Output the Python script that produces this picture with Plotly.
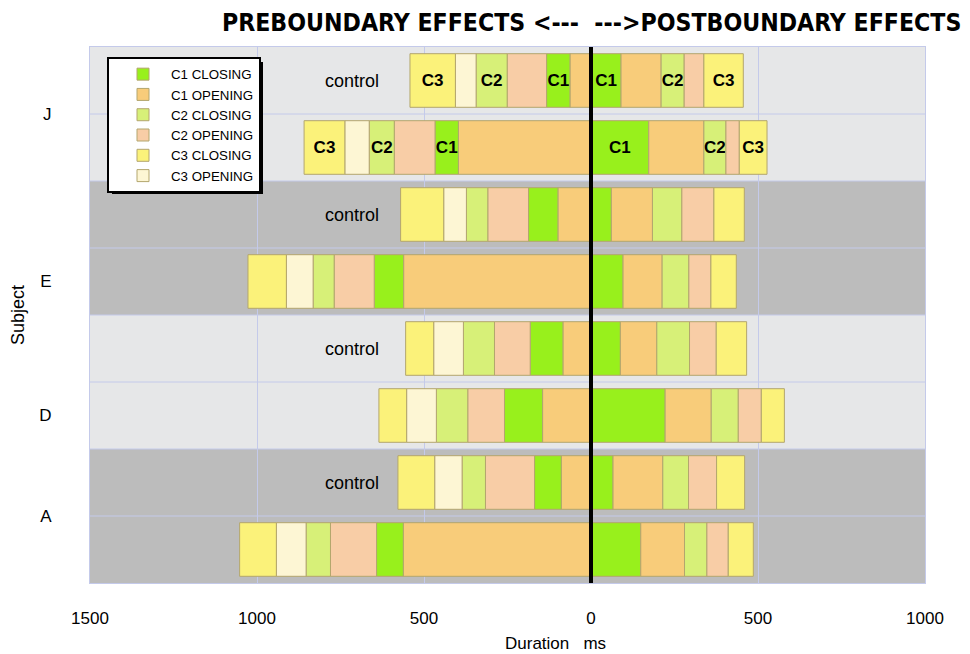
import plotly.graph_objects as go

# ---- data (rows listed bottom to top) ----
row_labels = ["A", "A control", "D", "D control", "E", "E control", "J", "J control"]
row_pos = [0, 1, 2, 3, 4, 5, 6, 7]
control_rows = ["A control", "D control", "E control", "J control"]
labeled_rows = ["J", "J control"]          # rows whose closing segments carry C-labels

# preboundary (left of boundary) durations in ms, ordered outward from the boundary
pre_c1_opening = [562, 89, 145, 84, 561, 99, 397, 63]
pre_c1_closing = [80, 80, 114, 98, 88, 88, 70, 70]
pre_c2_opening = [138, 147, 110, 107, 120, 122, 122, 118]
pre_c2_closing = [73, 70, 94, 93, 63, 64, 75, 93]
pre_c3_opening = [89, 82, 89, 89, 80, 68, 73, 62]
pre_c3_closing = [110, 110, 83, 84, 115, 129, 122, 136]

# postboundary (right of boundary) durations in ms, ordered outward
post_c1_closing = [149, 66, 222, 88, 96, 61, 173, 90]
post_c1_opening = [131, 149, 138, 109, 117, 123, 165, 120]
post_c2_closing = [67, 77, 81, 98, 80, 88, 66, 69]
post_c2_opening = [64, 84, 69, 80, 66, 96, 40, 59]
post_c3_closing = [75, 84, 69, 91, 76, 91, 83, 118]

x_tickvals = [-1500, -1000, -500, 0, 500, 1000]
x_ticktext = ["1500", "1000", "500", "0", "500", "1000"]
subject_ticks = [0.5, 2, 4, 6.5]
subject_names = ["A", "D", "E", "J"]
band_subjects = ["A", "D", "E", "J"]

phase_names = ["C1 CLOSING", "C1 OPENING", "C2 CLOSING", "C2 OPENING", "C3 CLOSING", "C3 OPENING"]
phase_colors = {
    "C1 CLOSING": "#98f01c",
    "C1 OPENING": "#f8cc7a",
    "C2 CLOSING": "#d7f078",
    "C2 OPENING": "#f8cda6",
    "C3 CLOSING": "#fbf27a",
    "C3 OPENING": "#fdf6d4",
}

FONT = "Liberation Sans, Arial, Helvetica, sans-serif"
GRID = "#c4caea"
OUTLINE = "#b3a66e"

# page offset of the figure (browser body margin) and plot-area geometry in page px
OFF = 8
PL, PT, PW, PH = 90, 47, 835, 536

def px_x(p):
    return (p - PL) / PW

def px_y(p):
    return (PT + PH - p) / PH

fig = go.Figure()

def add_seg(values, phase, side, show):
    sign = -1 if side == "pre" else 1
    closing = "CLOSING" in phase
    lbl = phase.split()[0]
    text = [lbl if (closing and r in labeled_rows) else "" for r in row_labels]
    fig.add_trace(go.Bar(
        x=[sign * v for v in values], y=row_pos, orientation="h",
        name=phase, legendgroup=phase, showlegend=show,
        legendrank=phase_names.index(phase) + 1,
        marker=dict(color=phase_colors[phase], line=dict(color=OUTLINE, width=1)),
        text=text, textposition="inside", insidetextanchor="middle",
        textangle=0, constraintext="none",
        textfont=dict(family=FONT, size=17, color="black", weight="bold"),
        hoverinfo="skip",
    ))

# left side, stacked outward from zero
add_seg(pre_c1_opening, "C1 OPENING", "pre", True)
add_seg(pre_c1_closing, "C1 CLOSING", "pre", True)
add_seg(pre_c2_opening, "C2 OPENING", "pre", True)
add_seg(pre_c2_closing, "C2 CLOSING", "pre", True)
add_seg(pre_c3_opening, "C3 OPENING", "pre", True)
add_seg(pre_c3_closing, "C3 CLOSING", "pre", True)
# right side
add_seg(post_c1_closing, "C1 CLOSING", "post", False)
add_seg(post_c1_opening, "C1 OPENING", "post", False)
add_seg(post_c2_closing, "C2 CLOSING", "post", False)
add_seg(post_c2_opening, "C2 OPENING", "post", False)
add_seg(post_c3_closing, "C3 CLOSING", "post", False)

shapes = []
band_cols = ["#bcbcbc", "#e6e7e8", "#bcbcbc", "#e6e7e8"]
for i, s in enumerate(band_subjects):
    shapes.append(dict(type="rect", xref="paper", x0=0, x1=1, yref="y",
                       y0=2 * i - 0.5, y1=2 * i + 1.5, fillcolor=band_cols[i],
                       line=dict(width=0), layer="below"))
for k in range(len(row_pos) - 1):
    shapes.append(dict(type="line", xref="paper", x0=0, x1=1, yref="y",
                       y0=k + 0.5, y1=k + 0.5, line=dict(color=GRID, width=1), layer="below"))
# boundary line
shapes.append(dict(type="line", xref="x", x0=0, x1=0, yref="paper", y0=0, y1=1,
                   line=dict(color="black", width=4), layer="above"))
# legend drop shadow
shapes.append(dict(type="rect", xref="paper", yref="paper",
                   x0=px_x(112), x1=px_x(263), y0=px_y(194), y1=px_y(62),
                   fillcolor="black", line=dict(width=0), layer="above"))

annotations = []
for r in control_rows:
    annotations.append(dict(x=-716, y=row_pos[row_labels.index(r)], xref="x", yref="y",
                            text="control", showarrow=False, xanchor="center",
                            font=dict(family=FONT, size=18, color="black")))
annotations.append(dict(x=0, xref="x", y=px_y(22), yref="paper",
                        text="PREBOUNDARY EFFECTS <---  --->POSTBOUNDARY EFFECTS",
                        showarrow=False, xanchor="center", yanchor="middle",
                        font=dict(family="DejaVu Sans Condensed, Liberation Sans Narrow, Arial Narrow, sans-serif",
                                  size=24.6, color="black", weight="bold")))
annotations.append(dict(x=px_x(555), xref="paper", y=px_y(643), yref="paper",
                        text="Duration   ms", showarrow=False, xanchor="center", yanchor="middle",
                        font=dict(family=FONT, size=17, color="black")))
annotations.append(dict(x=px_x(18), xref="paper", y=px_y(315), yref="paper",
                        text="Subject", showarrow=False, textangle=-90,
                        xanchor="center", yanchor="middle",
                        font=dict(family=FONT, size=18, color="black")))

fig.update_layout(
    width=970 - OFF, height=654 - OFF,
    margin=dict(l=PL - OFF, r=970 - PL - PW, t=PT - OFF, b=654 - PT - PH),
    paper_bgcolor="white", plot_bgcolor="#e6e7e8",
    barmode="relative", bargap=0.2,
    font=dict(family=FONT, size=16, color="black"),
    shapes=shapes, annotations=annotations,
    legend=dict(x=px_x(107), y=px_y(57), xanchor="left", yanchor="top",
                bgcolor="white", bordercolor="black", borderwidth=2,
                font=dict(family=FONT, size=13.3, color="black"),
                itemwidth=46, indentation=6,
                tracegroupgap=0, traceorder="normal"),
    xaxis=dict(range=[-1500, 1000], tickvals=x_tickvals, ticktext=x_ticktext,
               showgrid=True, gridcolor=GRID, gridwidth=1, zeroline=False,
               showline=True, linecolor=GRID, mirror=True, ticks="",
               ticklabelstandoff=20, tickfont=dict(family=FONT, size=17)),
    yaxis=dict(range=[-0.5, 7.5], tickvals=subject_ticks, ticktext=subject_names,
               showgrid=False, zeroline=False, showline=True, linecolor=GRID, mirror=True,
               ticks="", ticklabelstandoff=34, tickfont=dict(family=FONT, size=17)),
)

fig.write_html("out.html")
